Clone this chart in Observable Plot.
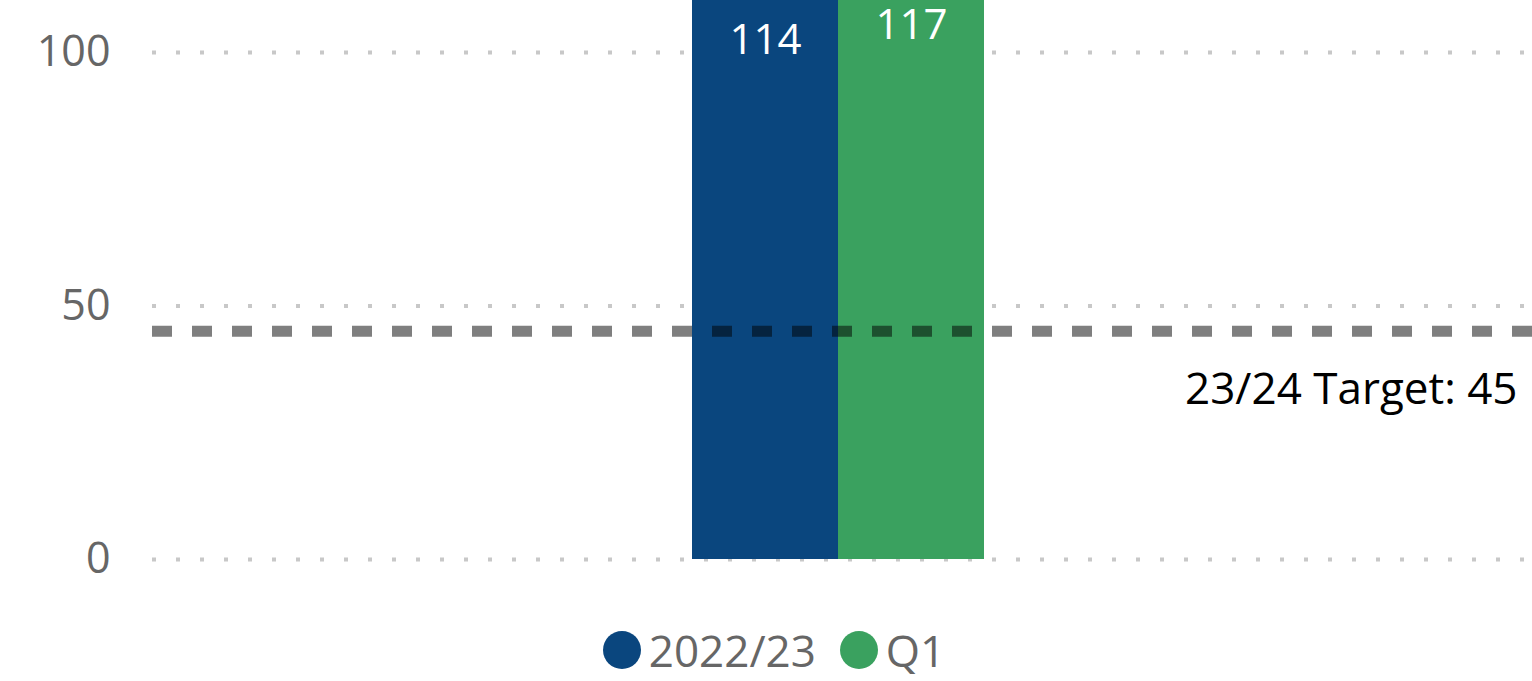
<!DOCTYPE html>
<html>
<head>
<meta charset="utf-8">
<script src="https://cdn.jsdelivr.net/npm/d3@7"></script>
<script src="https://cdn.jsdelivr.net/npm/@observablehq/plot@0.6"></script>
<style>
  html, body { margin: 0; padding: 0; background: #fff; }
  body { width: 1532px; height: 681px; overflow: hidden; font-family: "Open Sans", sans-serif; }
  #legend { display: flex; justify-content: center; align-items: center; height: 66px; padding-left: 16px; padding-top: 2px; }
  .item { display: flex; align-items: center; margin: 0 12px; }
  .dot { width: 38px; height: 38px; border-radius: 50%; margin-right: 8px; }
  .lab { font-size: 44px; color: #666666; line-height: 1; }
</style>
</head>
<body>
<div id="chart"></div>
<div id="legend"></div>
<script>
const series = ["2022/23", "Q1"];
const values = [114, 117];
const colors = ["#0A467E", "#3AA15F"];
const target = 45;
const targetLabel = "23/24 Target: 45";
const yTicks = [0, 50, 100];

const data = series.map((s, i) => ({series: s, value: values[i]}));

const chart = Plot.plot({
  width: 1532,
  height: 615,
  marginLeft: 152,
  marginRight: 0,
  marginTop: 0,
  marginBottom: 56,
  style: {fontFamily: "'Open Sans', sans-serif", background: "white"},
  x: {type: "band", domain: series, paddingInner: 0, paddingOuter: 3.71, align: 0.496, axis: null},
  y: {domain: [0, 110.26], ticks: yTicks, tickSize: 0, tickPadding: 42, label: null},
  color: {domain: series, range: colors},
  marks: [
    Plot.ruleY(yTicks, {stroke: "#c8c8c8", strokeWidth: 4, strokeDasharray: "4,20"}),
    Plot.barY(data, {x: "series", y: "value", fill: "series", clip: true}),
    Plot.ruleY([target], {stroke: "black", strokeOpacity: 0.5, strokeWidth: 11, strokeDasharray: "20,20"}),
    Plot.text(data, {x: "series", y: "value", text: d => String(d.value), fill: "white", fontSize: 42, dy: 59}),
    Plot.text([target], {y: d => d, text: () => targetLabel, frameAnchor: "right", textAnchor: "end", dx: -15, dy: 59, fontSize: 44, fill: "black"}),
    Plot.axisY({ticks: yTicks, tickSize: 0, tickPadding: 42, fontSize: 43, color: "#666666", label: null})
  ]
});
document.getElementById("chart").appendChild(chart);

const legend = document.getElementById("legend");
series.forEach((s, i) => {
  const item = document.createElement("div");
  item.className = "item";
  const dot = document.createElement("span");
  dot.className = "dot";
  dot.style.background = colors[i];
  const lab = document.createElement("span");
  lab.className = "lab";
  lab.textContent = s;
  item.appendChild(dot);
  item.appendChild(lab);
  legend.appendChild(item);
});
</script>
</body>
</html>
